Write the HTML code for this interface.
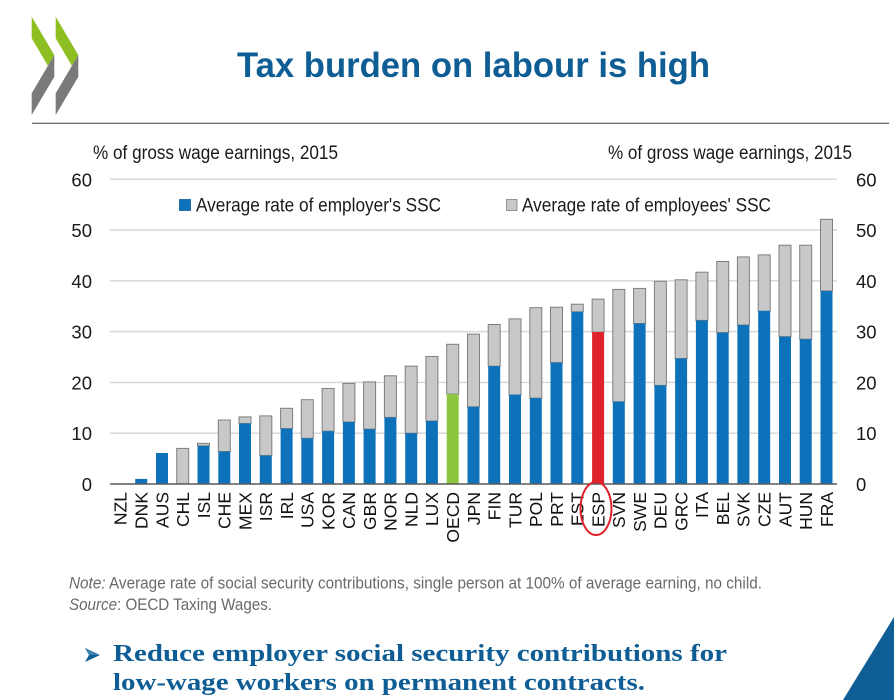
<!DOCTYPE html>
<html>
<head>
<meta charset="utf-8">
<style>
html,body{margin:0;padding:0;background:#fff;width:894px;height:700px;overflow:hidden;}
svg{display:block;}
.sans{font-family:"Liberation Sans",Arial,sans-serif;}
.serif{font-family:"Liberation Serif","DejaVu Serif",serif;}
</style>
</head>
<body>
<svg width="894" height="700" viewBox="0 0 894 700" xmlns="http://www.w3.org/2000/svg">
  <!-- Logo -->
  <g>
    <polygon points="31.7,16.7 54.3,55 47.9,65.8 31.7,38.3" fill="#8DBE22"/>
    <polygon points="54.3,55 54.3,76.7 31.7,115 31.7,93.3" fill="#7A7A7A"/>
    <polygon points="55.7,16.7 78.3,55 71.9,65.8 55.7,38.3" fill="#8DBE22"/>
    <polygon points="78.3,55 78.3,76.7 55.7,115 55.7,93.3" fill="#7A7A7A"/>
  </g>
  <!-- Title -->
  <text class="sans" x="237" y="77" font-size="35" font-weight="bold" fill="#0E5D94" textLength="473" lengthAdjust="spacingAndGlyphs">Tax burden on labour is high</text>
  <line x1="32" y1="123.3" x2="889" y2="123.3" stroke="#707070" stroke-width="1.4"/>

  <!-- Axis headers -->
  <text class="sans" x="93" y="159" font-size="19" fill="#1a1a1a" textLength="245" lengthAdjust="spacingAndGlyphs">% of gross wage earnings, 2015</text>
  <text class="sans" x="608" y="159" font-size="19" fill="#1a1a1a" textLength="244" lengthAdjust="spacingAndGlyphs">% of gross wage earnings, 2015</text>

  <!-- Gridlines -->
  <g stroke="#D6D6D6" stroke-width="1.4">
    <line x1="110" y1="433.2" x2="837" y2="433.2"/>
    <line x1="110" y1="382.4" x2="837" y2="382.4"/>
    <line x1="110" y1="331.6" x2="837" y2="331.6"/>
    <line x1="110" y1="280.8" x2="837" y2="280.8"/>
    <line x1="110" y1="230" x2="837" y2="230"/>
    <line x1="110" y1="179.2" x2="837" y2="179.2"/>
  </g>

  <!-- Tick labels left -->
  <g class="sans" font-size="18.5" fill="#1a1a1a" text-anchor="end">
    <text x="92" y="491">0</text>
    <text x="92" y="440">10</text>
    <text x="92" y="389.5">20</text>
    <text x="92" y="338.5">30</text>
    <text x="92" y="288">40</text>
    <text x="92" y="237">50</text>
    <text x="92" y="186.5">60</text>
  </g>
  <!-- Tick labels right -->
  <g class="sans" font-size="18.5" fill="#1a1a1a" text-anchor="start">
    <text x="856" y="491">0</text>
    <text x="856" y="440">10</text>
    <text x="856" y="389.5">20</text>
    <text x="856" y="338.5">30</text>
    <text x="856" y="288">40</text>
    <text x="856" y="237">50</text>
    <text x="856" y="186.5">60</text>
  </g>

  <!-- Legend -->
  <rect x="179.5" y="199.5" width="11" height="11" fill="#0D72BA" stroke="#0A5E9A" stroke-width="0.8"/>
  <text class="sans" x="196" y="211.5" font-size="19" fill="#1a1a1a" textLength="245" lengthAdjust="spacingAndGlyphs">Average rate of employer's SSC</text>
  <rect x="506.5" y="199.5" width="10.5" height="11" fill="#C8C8C8" stroke="#7F7F7F" stroke-width="0.8"/>
  <text class="sans" x="522" y="211.5" font-size="19" fill="#1a1a1a" textLength="249" lengthAdjust="spacingAndGlyphs">Average rate of employees' SSC</text>

  <!-- Bars -->
  <g id="bars">
    <rect x="135.2" y="478.9" width="12" height="5.1" fill="#0D72BA"/>
    <rect x="156.0" y="453.0" width="12" height="31.0" fill="#0D72BA"/>
    <rect x="176.7" y="448.4" width="12" height="35.6" fill="#C8C8C8" stroke="#7F7F7F" stroke-width="1"/>
    <rect x="197.5" y="443.4" width="12" height="2.5" fill="#C8C8C8" stroke="#7F7F7F" stroke-width="1"/>
    <rect x="197.5" y="445.9" width="12" height="38.1" fill="#0D72BA"/>
    <rect x="218.3" y="420.0" width="12" height="31.5" fill="#C8C8C8" stroke="#7F7F7F" stroke-width="1"/>
    <rect x="218.3" y="451.5" width="12" height="32.5" fill="#0D72BA"/>
    <rect x="239.0" y="416.9" width="12" height="6.6" fill="#C8C8C8" stroke="#7F7F7F" stroke-width="1"/>
    <rect x="239.0" y="423.5" width="12" height="60.5" fill="#0D72BA"/>
    <rect x="259.8" y="415.9" width="12" height="39.6" fill="#C8C8C8" stroke="#7F7F7F" stroke-width="1"/>
    <rect x="259.8" y="455.6" width="12" height="28.4" fill="#0D72BA"/>
    <rect x="280.6" y="408.3" width="12" height="20.3" fill="#C8C8C8" stroke="#7F7F7F" stroke-width="1"/>
    <rect x="280.6" y="428.6" width="12" height="55.4" fill="#0D72BA"/>
    <rect x="301.3" y="399.7" width="12" height="38.6" fill="#C8C8C8" stroke="#7F7F7F" stroke-width="1"/>
    <rect x="301.3" y="438.3" width="12" height="45.7" fill="#0D72BA"/>
    <rect x="322.1" y="388.5" width="12" height="42.7" fill="#C8C8C8" stroke="#7F7F7F" stroke-width="1"/>
    <rect x="322.1" y="431.2" width="12" height="52.8" fill="#0D72BA"/>
    <rect x="342.9" y="383.4" width="12" height="38.6" fill="#C8C8C8" stroke="#7F7F7F" stroke-width="1"/>
    <rect x="342.9" y="422.0" width="12" height="62.0" fill="#0D72BA"/>
    <rect x="363.6" y="381.9" width="12" height="47.2" fill="#C8C8C8" stroke="#7F7F7F" stroke-width="1"/>
    <rect x="363.6" y="429.1" width="12" height="54.9" fill="#0D72BA"/>
    <rect x="384.4" y="375.8" width="12" height="41.6" fill="#C8C8C8" stroke="#7F7F7F" stroke-width="1"/>
    <rect x="384.4" y="417.5" width="12" height="66.5" fill="#0D72BA"/>
    <rect x="405.2" y="366.1" width="12" height="67.1" fill="#C8C8C8" stroke="#7F7F7F" stroke-width="1"/>
    <rect x="405.2" y="433.2" width="12" height="50.8" fill="#0D72BA"/>
    <rect x="425.9" y="356.5" width="12" height="64.5" fill="#C8C8C8" stroke="#7F7F7F" stroke-width="1"/>
    <rect x="425.9" y="421.0" width="12" height="63.0" fill="#0D72BA"/>
    <rect x="446.7" y="344.3" width="12" height="49.8" fill="#C8C8C8" stroke="#7F7F7F" stroke-width="1"/>
    <rect x="446.7" y="394.1" width="12" height="89.9" fill="#8CC63F"/>
    <rect x="467.5" y="334.1" width="12" height="72.7" fill="#C8C8C8" stroke="#7F7F7F" stroke-width="1"/>
    <rect x="467.5" y="406.8" width="12" height="77.2" fill="#0D72BA"/>
    <rect x="488.2" y="324.5" width="12" height="41.7" fill="#C8C8C8" stroke="#7F7F7F" stroke-width="1"/>
    <rect x="488.2" y="366.1" width="12" height="117.9" fill="#0D72BA"/>
    <rect x="509.0" y="318.9" width="12" height="76.2" fill="#C8C8C8" stroke="#7F7F7F" stroke-width="1"/>
    <rect x="509.0" y="394.6" width="12" height="89.4" fill="#0D72BA"/>
    <rect x="529.8" y="307.7" width="12" height="90.4" fill="#C8C8C8" stroke="#7F7F7F" stroke-width="1"/>
    <rect x="529.8" y="398.1" width="12" height="85.9" fill="#0D72BA"/>
    <rect x="550.5" y="307.2" width="12" height="55.4" fill="#C8C8C8" stroke="#7F7F7F" stroke-width="1"/>
    <rect x="550.5" y="362.6" width="12" height="121.4" fill="#0D72BA"/>
    <rect x="571.3" y="304.2" width="12" height="7.6" fill="#C8C8C8" stroke="#7F7F7F" stroke-width="1"/>
    <rect x="571.3" y="311.8" width="12" height="172.2" fill="#0D72BA"/>
    <rect x="592.1" y="299.1" width="12" height="33.0" fill="#C8C8C8" stroke="#7F7F7F" stroke-width="1"/>
    <rect x="592.1" y="332.1" width="12" height="151.9" fill="#E0222B"/>
    <rect x="612.8" y="289.4" width="12" height="112.3" fill="#C8C8C8" stroke="#7F7F7F" stroke-width="1"/>
    <rect x="612.8" y="401.7" width="12" height="82.3" fill="#0D72BA"/>
    <rect x="633.6" y="288.4" width="12" height="35.1" fill="#C8C8C8" stroke="#7F7F7F" stroke-width="1"/>
    <rect x="633.6" y="323.5" width="12" height="160.5" fill="#0D72BA"/>
    <rect x="654.4" y="281.3" width="12" height="104.1" fill="#C8C8C8" stroke="#7F7F7F" stroke-width="1"/>
    <rect x="654.4" y="385.4" width="12" height="98.6" fill="#0D72BA"/>
    <rect x="675.1" y="279.8" width="12" height="78.7" fill="#C8C8C8" stroke="#7F7F7F" stroke-width="1"/>
    <rect x="675.1" y="358.5" width="12" height="125.5" fill="#0D72BA"/>
    <rect x="695.9" y="272.2" width="12" height="48.2" fill="#C8C8C8" stroke="#7F7F7F" stroke-width="1"/>
    <rect x="695.9" y="320.4" width="12" height="163.6" fill="#0D72BA"/>
    <rect x="716.7" y="261.5" width="12" height="71.1" fill="#C8C8C8" stroke="#7F7F7F" stroke-width="1"/>
    <rect x="716.7" y="332.6" width="12" height="151.4" fill="#0D72BA"/>
    <rect x="737.4" y="256.9" width="12" height="68.1" fill="#C8C8C8" stroke="#7F7F7F" stroke-width="1"/>
    <rect x="737.4" y="325.0" width="12" height="159.0" fill="#0D72BA"/>
    <rect x="758.2" y="254.9" width="12" height="56.4" fill="#C8C8C8" stroke="#7F7F7F" stroke-width="1"/>
    <rect x="758.2" y="310.8" width="12" height="173.2" fill="#0D72BA"/>
    <rect x="779.0" y="245.2" width="12" height="91.4" fill="#C8C8C8" stroke="#7F7F7F" stroke-width="1"/>
    <rect x="779.0" y="336.7" width="12" height="147.3" fill="#0D72BA"/>
    <rect x="799.7" y="245.2" width="12" height="94.0" fill="#C8C8C8" stroke="#7F7F7F" stroke-width="1"/>
    <rect x="799.7" y="339.2" width="12" height="144.8" fill="#0D72BA"/>
    <rect x="820.5" y="219.3" width="12" height="71.6" fill="#C8C8C8" stroke="#7F7F7F" stroke-width="1"/>
    <rect x="820.5" y="291.0" width="12" height="193.0" fill="#0D72BA"/>
  </g>

  <!-- X axis line -->
  <line x1="110" y1="484" x2="837" y2="484" stroke="#595959" stroke-width="1.5"/>

  <!-- X labels -->
  <g class="sans" font-size="17.5" fill="#111" text-anchor="end">
    <text transform="translate(126.7,492) rotate(-90)">NZL</text>
    <text transform="translate(147.5,492) rotate(-90)">DNK</text>
    <text transform="translate(168.3,492) rotate(-90)">AUS</text>
    <text transform="translate(189.0,492) rotate(-90)">CHL</text>
    <text transform="translate(209.8,492) rotate(-90)">ISL</text>
    <text transform="translate(230.6,492) rotate(-90)">CHE</text>
    <text transform="translate(251.3,492) rotate(-90)">MEX</text>
    <text transform="translate(272.1,492) rotate(-90)">ISR</text>
    <text transform="translate(292.9,492) rotate(-90)">IRL</text>
    <text transform="translate(313.6,492) rotate(-90)">USA</text>
    <text transform="translate(334.4,492) rotate(-90)">KOR</text>
    <text transform="translate(355.2,492) rotate(-90)">CAN</text>
    <text transform="translate(375.9,492) rotate(-90)">GBR</text>
    <text transform="translate(396.7,492) rotate(-90)">NOR</text>
    <text transform="translate(417.5,492) rotate(-90)">NLD</text>
    <text transform="translate(438.2,492) rotate(-90)">LUX</text>
    <text transform="translate(459.0,492) rotate(-90)">OECD</text>
    <text transform="translate(479.8,492) rotate(-90)">JPN</text>
    <text transform="translate(500.5,492) rotate(-90)">FIN</text>
    <text transform="translate(521.3,492) rotate(-90)">TUR</text>
    <text transform="translate(542.1,492) rotate(-90)">POL</text>
    <text transform="translate(562.8,492) rotate(-90)">PRT</text>
    <text transform="translate(583.6,492) rotate(-90)">EST</text>
    <text transform="translate(604.4,492) rotate(-90)">ESP</text>
    <text transform="translate(625.1,492) rotate(-90)">SVN</text>
    <text transform="translate(645.9,492) rotate(-90)">SWE</text>
    <text transform="translate(666.7,492) rotate(-90)">DEU</text>
    <text transform="translate(687.4,492) rotate(-90)">GRC</text>
    <text transform="translate(708.2,492) rotate(-90)">ITA</text>
    <text transform="translate(729.0,492) rotate(-90)">BEL</text>
    <text transform="translate(749.7,492) rotate(-90)">SVK</text>
    <text transform="translate(770.5,492) rotate(-90)">CZE</text>
    <text transform="translate(791.3,492) rotate(-90)">AUT</text>
    <text transform="translate(812.0,492) rotate(-90)">HUN</text>
    <text transform="translate(832.8,492) rotate(-90)">FRA</text>
  </g>

  <!-- ESP ellipse -->
  <ellipse cx="596" cy="508.5" rx="15.5" ry="26.5" fill="none" stroke="#E0222B" stroke-width="2"/>

  <!-- Notes -->
  <text class="sans" x="69" y="588.5" font-size="17" fill="#6A6A6A" textLength="693" lengthAdjust="spacingAndGlyphs"><tspan font-style="italic">Note:</tspan> Average rate of social security contributions, single person at 100% of average earning, no child.</text>
  <text class="sans" x="69" y="610" font-size="17" fill="#6A6A6A" textLength="203" lengthAdjust="spacingAndGlyphs"><tspan font-style="italic">Source</tspan>: OECD Taxing Wages.</text>

  <!-- Bottom message -->
  <polygon points="85,648 100,655 85,662 89,655" fill="#0E5D94"/>
  <polygon points="85,648 100,655 89,655" fill="#3E7FB0"/>
  <text class="serif" x="113" y="661" font-size="24" font-weight="bold" fill="#0E5D94" textLength="614" lengthAdjust="spacingAndGlyphs">Reduce employer social security contributions for</text>
  <text class="serif" x="113" y="690" font-size="24" font-weight="bold" fill="#0E5D94" textLength="532" lengthAdjust="spacingAndGlyphs">low-wage workers on permanent contracts.</text>

  <!-- Bottom-right triangle -->
  <polygon points="894,617 843,700 894,700" fill="#0E5D94"/>
</svg>
</body>
</html>
